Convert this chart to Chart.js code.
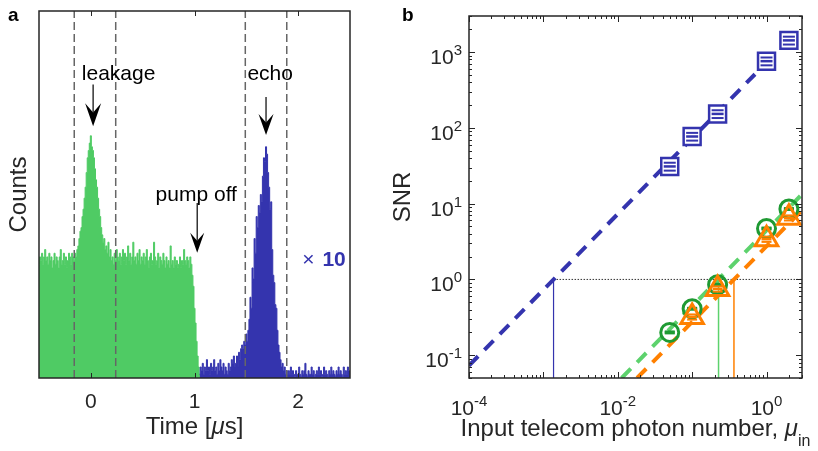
<!DOCTYPE html>
<html>
<head>
<meta charset="utf-8">
<script src="https://cdn.jsdelivr.net/npm/chart.js@4.4.1/dist/chart.umd.min.js"></script>
<style>
  html, body { margin: 0; padding: 0; background: #fff; }
  #wrap { position: relative; width: 818px; height: 451px; }
  #wrap canvas { position: absolute; left: 0; top: 0; }
</style>
</head>
<body>
<div id="wrap">
  <canvas id="histChart" width="818" height="451"></canvas>
  <canvas id="snrChart" width="818" height="451"></canvas>
</div>
<script>
// ---------- panel a: arrival-time histogram ----------
const BIN_WIDTH = 0.01;          // µs
const PUMP_START = -0.50;        // first bin centre of the green trace
const ECHO_START = 1.05;         // first bin centre of the blue trace

const countsPump = [
  31,33,32,34,31,33,35,32,33,31, 34,32,33,30,32,34,31,33,32,30,
  33,35,31,32,34,31,33,30,32,34, 33,31,34,33,32,34,33,35,
  36,38,40,41,44,46,49,52,56,60, 62,64,66,63,62,60,57,54,52,49,
  46,44,41,39,37,38,35,36,34,37, 33,35,32,
  33,31,34,32,35,33,32,34,31,33, 35,32,34,31,33,36,32,34,31,33,
  37,32,33,31,34,32,35,31,33,32, 34,31,33,35,32,30,33,34,31,32,
  37,33,31,32,34,30,33,32,31,34, 32,30,33,31,32,30,36,31,32,30,
  33,31,32,30,31,33,30,32,31,35, 32,31,33,32,30,33,31,
  28,25,19,15,10,6,3,1,0
];

// echo counts, already multiplied by 10
const countsEcho = [
  1,3,2,4,1,3,2,5,2,3, 1,4,2,3,5,2,3,1,4,2, 5,3,2,4,1,3,2,1,4,2, 3,5,4,6,3,
  4,6,3,7,5,8,9,8,10,9, 12,10,13,16,22,19,30,27,38,34,
  44,41,47,45,50,48,55,60,59,63, 61,56,52,46,48,35,28,26,20,19,
  13,9,7,5,3,4,2,3,1,2, 1,
  2,1,3,1,2,1,0.5,2,1,1, 3,1,0.5,2,1,2,4,1,0.5,2, 1,1,3,1,2,0.5,1,2,1,3,
  1,2,0.5,1,3,1,2,1,0.5,2, 1,3,1,2,1,0.5,2,1,3,1, 2,1,0.5,3,1,2,1,3,2,1
];

const windowEdges = [-0.16, 0.24, 1.49, 1.89];
const timeTicks = [0, 1, 2];

// ---------- panel b: SNR vs input photon number ----------
const muSquares = [0.05, 0.1, 0.22, 1, 2];
const snrSquares = [31, 77, 153, 760, 1430];
const errSquares = [3.7, 9, 18, 90, 170];

const muCircles = [0.05, 0.1, 0.22, 1, 2];
const snrCircles = [0.2, 0.41, 0.85, 4.7, 8.5];
const errCircles = [0.006, 0.012, 0.025, 0.14, 0.25];

const muTriangles = [0.1, 0.22, 1, 2];
const snrTriangles = [0.32, 0.75, 3.4, 6.5];
const errTriangles = [0.025, 0.06, 0.27, 0.5];

// linear fits (SNR proportional to mu), end points
const fitSquares = [{ x: 1e-4, y: 0.073 }, { x: 0.7, y: 511 }];
const fitCircles = [{ x: 0.0113, y: 0.05 }, { x: 3, y: 13.3 }];
const fitTriangles = [{ x: 0.0182, y: 0.05 }, { x: 3, y: 8.2 }];

// mu where each fit reaches SNR = 1
const muThreshold = [0.00137, 0.2265, 0.365];

const muTickExp = [-4, -2, 0];
const snrTickExp = [-1, 0, 1, 2, 3];

// ---------- styling ----------
const FONT = "'Liberation Sans', Arial, Helvetica, sans-serif";
const AXIS = '#262626';
const BLUE = '#3434ae';
const GREEN_FILL = '#4fcb64';
const GREEN_DARK = '#1f9a33';
const GREEN_LIGHT = '#5dd26d';
const ORANGE = '#ff8000';

function line(ctx, x0, y0, x1, y1) {
  ctx.beginPath();
  ctx.moveTo(x0, y0);
  ctx.lineTo(x1, y1);
  ctx.stroke();
}

function drawArrow(ctx, x, yTail, yTip, len, w) {
  ctx.lineWidth = 1.2;
  line(ctx, x, yTail, x, yTip - len * 0.6);
  ctx.beginPath();
  ctx.moveTo(x, yTip);
  ctx.lineTo(x - w / 2, yTip - len);
  ctx.lineTo(x, yTip - len * 0.6);
  ctx.lineTo(x + w / 2, yTip - len);
  ctx.closePath();
  ctx.fill();
}

// "10" with a raised exponent; y is the baseline of "10"
function drawPow(ctx, exp, x, y, align) {
  ctx.font = `21px ${FONT}`;
  const wb = ctx.measureText('10').width;
  ctx.font = `15px ${FONT}`;
  const ws = ctx.measureText(exp).width;
  const left = align === 'center' ? x - (wb + ws) / 2 : x - wb - ws;
  ctx.textAlign = 'left';
  ctx.font = `21px ${FONT}`;
  ctx.fillText('10', left, y);
  ctx.font = `15px ${FONT}`;
  ctx.fillText(exp, left + wb, y - 9);
}

// runs of text with their own fonts, laid out left to right and centred on cx
function drawRuns(ctx, runs, cx, y) {
  let total = 0;
  runs.forEach(r => { ctx.font = r.font; r.w = ctx.measureText(r.text).width; total += r.w; });
  let x = cx - total / 2;
  ctx.textAlign = 'left';
  runs.forEach(r => {
    ctx.font = r.font;
    ctx.fillText(r.text, x, y + (r.dy || 0));
    x += r.w;
  });
}

const histDecor = {
  id: 'histDecor',
  afterDraw(chart) {
    const { ctx, chartArea: a, scales: { x, y } } = chart;
    ctx.save();

    // annotations
    ctx.fillStyle = '#000';
    ctx.strokeStyle = '#000';
    ctx.font = `21px ${FONT}`;
    ctx.textAlign = 'center';
    ctx.textBaseline = 'alphabetic';
    ctx.fillText('leakage', x.getPixelForValue(0.268), y.getPixelForValue(81.2));
    ctx.fillText('echo', x.getPixelForValue(1.73), y.getPixelForValue(81.2));
    ctx.fillText('pump off', x.getPixelForValue(1.017), y.getPixelForValue(48.1));
    drawArrow(ctx, x.getPixelForValue(0.022), y.getPixelForValue(80), y.getPixelForValue(68.6), 23, 16);
    drawArrow(ctx, x.getPixelForValue(1.69), y.getPixelForValue(76.6), y.getPixelForValue(66.2), 21, 15);
    drawArrow(ctx, x.getPixelForValue(1.026), y.getPixelForValue(47.7), y.getPixelForValue(34.1), 20, 14);

    // scale factor of the echo trace
    ctx.fillStyle = BLUE;
    ctx.textAlign = 'left';
    const xb = x.getPixelForValue(2.04), yb = y.getPixelForValue(30.6);
    ctx.font = `21px ${FONT}`;
    ctx.fillText('\u00d7', xb, yb);
    const wx = ctx.measureText('\u00d7 ').width;
    ctx.font = `bold 21px ${FONT}`;
    ctx.fillText('10', xb + wx + 2, yb);

    // frame and ticks
    ctx.strokeStyle = AXIS;
    ctx.lineWidth = 1;
    timeTicks.forEach(t => {
      const px = Math.round(x.getPixelForValue(t)) + 0.5;
      line(ctx, px, a.bottom, px, a.bottom - 5);
      line(ctx, px, a.top, px, a.top + 5);
    });
    ctx.lineWidth = 1.5;
    ctx.strokeRect(a.left, a.top, a.right - a.left, a.bottom - a.top);

    // tick labels and axis titles
    ctx.fillStyle = AXIS;
    ctx.font = `21px ${FONT}`;
    ctx.textAlign = 'center';
    timeTicks.forEach(t => ctx.fillText(String(t), x.getPixelForValue(t), a.bottom + 30));
    drawRuns(ctx, [
      { text: 'Time [', font: `24px ${FONT}` },
      { text: '\u03bc', font: `italic 24px ${FONT}` },
      { text: 's]', font: `24px ${FONT}` }
    ], (a.left + a.right) / 2, 434);

    ctx.save();
    ctx.translate(26, (a.top + a.bottom) / 2);
    ctx.rotate(-Math.PI / 2);
    ctx.textAlign = 'center';
    ctx.font = `24px ${FONT}`;
    ctx.fillText('Counts', 0, 0);
    ctx.restore();

    ctx.fillStyle = '#000';
    ctx.textAlign = 'left';
    ctx.font = `bold 19px ${FONT}`;
    ctx.fillText('a', 8, 21);
    ctx.restore();
  }
};

new Chart(document.getElementById('histChart'), {
  type: 'line',
  data: {
    datasets: [
      ...windowEdges.map(t => ({
        data: [{ x: t, y: 0 }, { x: t, y: 100 }],
        borderColor: '#666666',
        borderWidth: 1.5,
        borderDash: [8, 4],
        pointRadius: 0
      })),
      {
        data: countsEcho.map((c, i) => ({ x: ECHO_START + i * BIN_WIDTH, y: c })),
        stepped: 'middle',
        borderColor: BLUE,
        backgroundColor: BLUE,
        borderWidth: 1,
        fill: 'origin',
        pointRadius: 0
      },
      {
        data: countsPump.map((c, i) => ({ x: PUMP_START + i * BIN_WIDTH, y: c })),
        stepped: 'middle',
        borderColor: GREEN_FILL,
        backgroundColor: GREEN_FILL,
        borderWidth: 1,
        fill: 'origin',
        pointRadius: 0
      }
    ]
  },
  options: {
    responsive: false,
    animation: false,
    events: [],
    layout: { padding: { left: 39, right: 468, top: 11, bottom: 73 } },
    scales: {
      x: { type: 'linear', min: -0.5, max: 2.5, display: false },
      y: { min: 0, max: 100, display: false }
    },
    plugins: { legend: { display: false }, tooltip: { enabled: false } }
  },
  plugins: [histDecor]
});

// error bars drawn as short horizontal strokes inside each marker
const errorBars = {
  id: 'errorBars',
  afterDatasetDraw(chart, args) {
    const ds = chart.data.datasets[args.index];
    if (!ds.err) return;
    const { ctx } = chart;
    const y = chart.scales.y;
    ctx.save();
    ctx.strokeStyle = ds.pointBorderColor;
    args.meta.data.forEach((pt, i) => {
      const v = ds.data[i].y;
      const top = y.getPixelForValue(v + ds.err[i]);
      const bot = y.getPixelForValue(v - ds.err[i]);
      ctx.lineWidth = 2;
      line(ctx, pt.x - ds.cap, top, pt.x + ds.cap, top);
      line(ctx, pt.x - ds.cap, bot, pt.x + ds.cap, bot);
      ctx.lineWidth = 2.5;
      line(ctx, pt.x - ds.cap, pt.y, pt.x + ds.cap, pt.y);
    });
    ctx.restore();
  }
};

const snrDecor = {
  id: 'snrDecor',
  afterDraw(chart) {
    const { ctx, chartArea: a, scales: { x, y } } = chart;
    ctx.save();
    ctx.strokeStyle = AXIS;
    ctx.lineWidth = 1;
    for (let d = -4; d <= 0; d++) {
      for (let m = 1; m <= 9; m++) {
        const v = m * Math.pow(10, d);
        if (v > 3) break;
        const px = Math.round(x.getPixelForValue(v)) + 0.5;
        const len = m === 1 ? 6 : 3;
        line(ctx, px, a.bottom, px, a.bottom - len);
        line(ctx, px, a.top, px, a.top + len);
      }
    }
    for (let d = -2; d <= 3; d++) {
      for (let m = 1; m <= 9; m++) {
        const v = m * Math.pow(10, d);
        if (v < 0.05 || v > 3000) continue;
        const py = Math.round(y.getPixelForValue(v)) + 0.5;
        const len = m === 1 ? 6 : 3;
        line(ctx, a.left, py, a.left + len, py);
        line(ctx, a.right, py, a.right - len, py);
      }
    }
    ctx.lineWidth = 1.5;
    ctx.strokeRect(a.left, a.top, a.right - a.left, a.bottom - a.top);

    ctx.fillStyle = AXIS;
    ctx.textBaseline = 'alphabetic';
    muTickExp.forEach(e => drawPow(ctx, String(e), x.getPixelForValue(Math.pow(10, e)), a.bottom + 37, 'center'));
    snrTickExp.forEach(e => drawPow(ctx, String(e), a.left - 7, y.getPixelForValue(Math.pow(10, e)) + 12, 'right'));

    drawRuns(ctx, [
      { text: 'Input telecom photon number, ', font: `24px ${FONT}` },
      { text: '\u03bc', font: `italic 24px ${FONT}` },
      { text: 'in', font: `16px ${FONT}`, dy: 10 }
    ], (a.left + a.right) / 2, 436);

    ctx.save();
    ctx.translate(410, (a.top + a.bottom) / 2);
    ctx.rotate(-Math.PI / 2);
    ctx.textAlign = 'center';
    ctx.font = `24px ${FONT}`;
    ctx.fillText('SNR', 0, 0);
    ctx.restore();

    ctx.fillStyle = '#000';
    ctx.textAlign = 'left';
    ctx.font = `bold 19px ${FONT}`;
    ctx.fillText('b', 402, 21);
    ctx.restore();
  }
};

const pts = (xs, ys) => xs.map((v, i) => ({ x: v, y: ys[i] }));
const threshold = (mu, color, width) => ({
  data: [{ x: mu, y: 0.05 }, { x: mu, y: 1 }],
  showLine: true, borderColor: color, borderWidth: width, pointRadius: 0
});
const fit = (data, color) => ({
  data, showLine: true, borderColor: color, borderWidth: 4,
  borderDash: [13, 9], borderCapStyle: 'butt', pointRadius: 0
});

new Chart(document.getElementById('snrChart'), {
  type: 'scatter',
  data: {
    datasets: [
      {
        data: pts(muSquares, snrSquares), err: errSquares, cap: 6,
        pointStyle: 'rect', pointRadius: 12, pointBorderWidth: 2.5,
        pointBorderColor: BLUE, pointBackgroundColor: '#ffffff'
      },
      {
        data: pts(muTriangles, snrTriangles), err: errTriangles, cap: 5,
        pointStyle: 'triangle', pointRadius: 13, pointBorderWidth: 3,
        pointBorderColor: ORANGE, pointBackgroundColor: 'rgba(255,255,255,0)'
      },
      {
        data: pts(muCircles, snrCircles), err: errCircles, cap: 5,
        pointStyle: 'circle', pointRadius: 9, pointBorderWidth: 3,
        pointBorderColor: GREEN_DARK, pointBackgroundColor: 'rgba(255,255,255,0)'
      },
      fit(fitSquares, BLUE),
      fit(fitCircles, GREEN_LIGHT),
      fit(fitTriangles, ORANGE),
      {
        data: [{ x: muThreshold[0], y: 1 }, { x: 3, y: 1 }],
        showLine: true, borderColor: '#333333', borderWidth: 1,
        borderDash: [1.5, 1.5], pointRadius: 0
      },
      threshold(muThreshold[0], BLUE, 1.2),
      threshold(muThreshold[1], GREEN_LIGHT, 1.5),
      threshold(muThreshold[2], ORANGE, 1.5)
    ]
  },
  options: {
    responsive: false,
    animation: false,
    events: [],
    layout: { padding: { left: 469, right: 9, top: 11, bottom: 73 } },
    scales: {
      x: { type: 'logarithmic', min: 1e-4, max: 3, display: false },
      y: { type: 'logarithmic', min: 0.05, max: 3000, display: false }
    },
    plugins: { legend: { display: false }, tooltip: { enabled: false } }
  },
  plugins: [errorBars, snrDecor]
});
</script>
</body>
</html>
